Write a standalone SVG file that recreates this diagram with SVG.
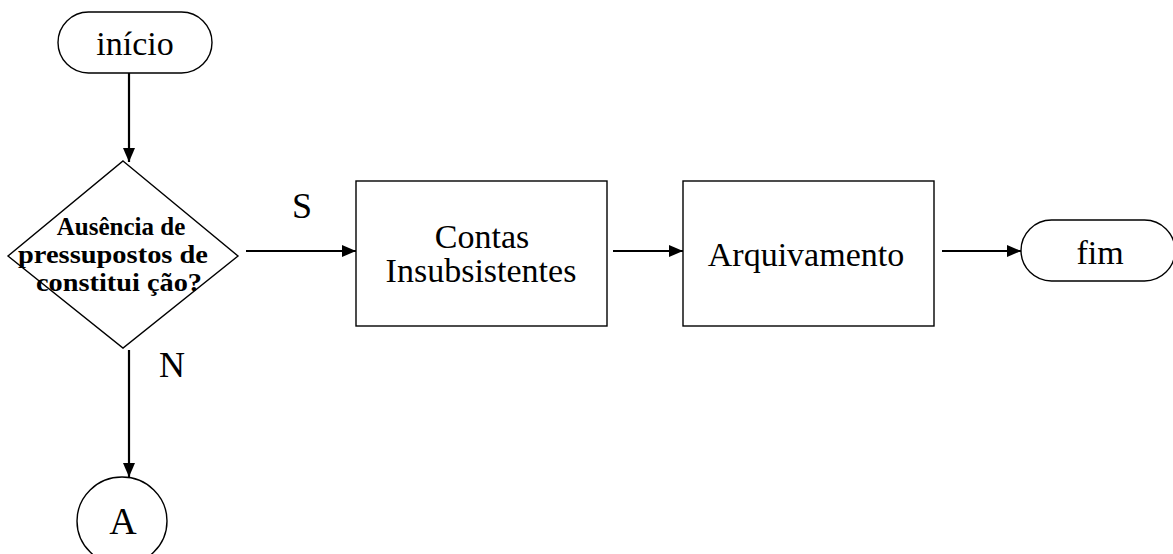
<svg xmlns="http://www.w3.org/2000/svg" width="1173" height="554" viewBox="0 0 1173 554">
<style>
.shape{fill:#fff;stroke:#000;stroke-width:1.4}
.t{font-family:"Liberation Serif","Times New Roman",serif;font-size:34px;fill:#000;text-anchor:middle}
.b{font-family:"Liberation Serif","Times New Roman",serif;font-size:25px;font-weight:bold;fill:#000;text-anchor:middle}
.c{stroke:#000;stroke-width:2.2;fill:none;marker-end:url(#arr)}
</style>
<defs>
<marker id="arr" markerWidth="14" markerHeight="12" refX="14" refY="6" orient="auto" markerUnits="userSpaceOnUse">
<path d="M0,0 L14,6 L0,12 Z" fill="#000"/>
</marker>
</defs>
<rect width="1173" height="554" fill="#fff"/>
<g id="connectors">
<line class="c" x1="129" y1="73" x2="129" y2="162"/>
<line class="c" x1="246" y1="251" x2="356" y2="251"/>
<line class="c" x1="613" y1="251" x2="683" y2="251"/>
<line class="c" x1="942" y1="251" x2="1021" y2="251"/>
<line class="c" x1="129" y1="350" x2="129" y2="477"/>
<text class="t" x="302" y="218" style="font-size:36px">S</text>
<text class="t" x="172" y="377" style="font-size:36px">N</text>
</g>
<g id="inicio">
<rect class="shape" x="58" y="12" width="154" height="61" rx="30.5" ry="30.5"/>
<text class="t" x="135" y="55">início</text>
</g>
<g id="decisao">
<polygon class="shape" points="123,161 238,256 123,348 8,256"/>
<text class="b" x="121" y="235">Ausência de</text>
<text class="b" x="113" y="263" textLength="190" lengthAdjust="spacingAndGlyphs">pressupostos de</text>
<text class="b" x="119" y="291" textLength="166" lengthAdjust="spacingAndGlyphs">constitui ção?</text>
</g>
<g id="contas">
<rect class="shape" x="356" y="181" width="251" height="145"/>
<text class="t" x="482" y="248">Contas</text>
<text class="t" x="481" y="282">Insubsistentes</text>
</g>
<g id="arquivamento">
<rect class="shape" x="683" y="181" width="251" height="145"/>
<text class="t" x="806" y="266">Arquivamento</text>
</g>
<g id="fim">
<rect class="shape" x="1021" y="220" width="154" height="61" rx="30.5" ry="30.5"/>
<text class="t" x="1100" y="264">fim</text>
</g>
<g id="conector-A">
<ellipse class="shape" cx="122" cy="521" rx="45" ry="44"/>
<text class="t" x="123" y="534" style="font-size:38px">A</text>
</g>
</svg>
